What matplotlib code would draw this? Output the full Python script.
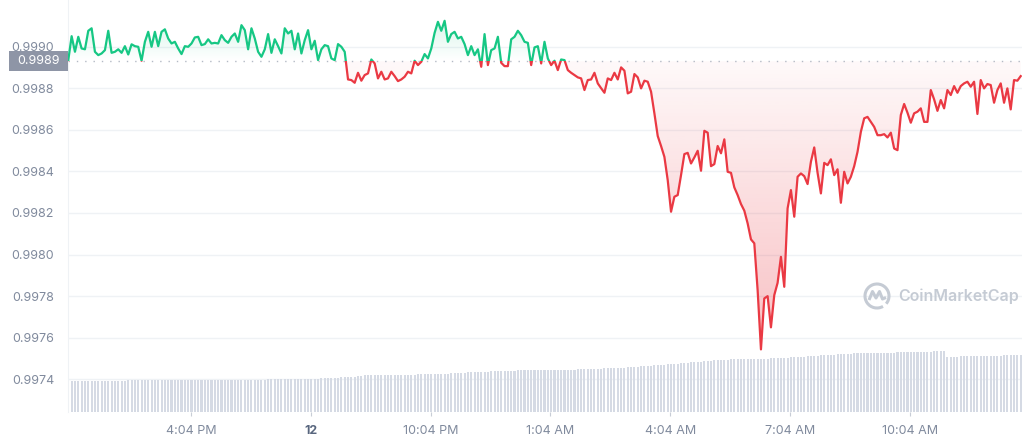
import numpy as np
import matplotlib.pyplot as plt
import matplotlib.transforms as mtransforms
from matplotlib.path import Path
from matplotlib.patches import Rectangle, Arc, PathPatch
from matplotlib.colors import to_rgb

plt.rcParams['font.family'] = ['Inter', 'DejaVu Sans']

# 5 minute prices starting 1:00 PM
price = [
	0.998935, 0.999050, 0.998975, 0.999047, 0.998991, 0.998987, 0.999076, 0.999088, 0.998975, 0.998959,
	0.998967, 0.998983, 0.999076, 0.998970, 0.998975, 0.998987, 0.998970, 0.999002, 0.998962, 0.999011,
	0.999002, 0.998999, 0.998932, 0.999023, 0.999071, 0.998999, 0.999071, 0.999002, 0.999071, 0.999083,
	0.999039, 0.999015, 0.999023, 0.998991, 0.998964, 0.999002, 0.998999, 0.999015, 0.999044, 0.999047,
	0.999007, 0.999012, 0.999035, 0.999015, 0.999018, 0.999015, 0.999055, 0.999031, 0.999018, 0.999047,
	0.999063, 0.999023, 0.999103, 0.999079, 0.998987, 0.999088, 0.999039, 0.998975, 0.998951, 0.998987,
	0.999060, 0.998970, 0.999035, 0.999002, 0.998967, 0.999088, 0.999063, 0.999076, 0.998987, 0.999063,
	0.998967, 0.999031, 0.999079, 0.998987, 0.999028, 0.998935, 0.998987, 0.999007,
	0.999002, 0.998943, 0.998935, 0.999012, 0.998999, 0.998975, 0.998842, 0.998839, 0.998826, 0.998874,
	0.998836, 0.998863, 0.998871, 0.998938, 0.998919, 0.998847, 0.998879, 0.998842, 0.998847, 0.998879,
	0.998858, 0.998834, 0.998842, 0.998855, 0.998879, 0.998871, 0.998932, 0.998911, 0.998927, 0.998964,
	0.998943, 0.998991, 0.999066, 0.999119, 0.999076, 0.999124, 0.999023, 0.999060, 0.999071, 0.999039,
	0.999047, 0.999012, 0.998959, 0.999002, 0.998959, 0.998987, 0.998903, 0.999060, 0.998911, 0.998983,
	0.998991, 0.999047, 0.998922, 0.998906, 0.998906, 0.999035, 0.999047, 0.999076, 0.999055, 0.999023,
	0.999018, 0.998911, 0.998996, 0.999002, 0.998919, 0.999023, 0.998943, 0.998911, 0.998932, 0.998887,
	0.998938, 0.998935, 0.998887, 0.998874, 0.998863, 0.998852, 0.998847, 0.998791, 0.998839, 0.998842,
	0.998874,
	0.998823, 0.998800, 0.998778, 0.998847, 0.998839, 0.998874, 0.998842, 0.998900, 0.998884, 0.998775,
	0.998783, 0.998868, 0.998852, 0.998799, 0.998836, 0.998831, 0.998783, 0.998679, 0.998570, 0.998522,
	0.998470, 0.998358, 0.998206, 0.998278, 0.998286, 0.998382, 0.998483, 0.998489, 0.998438, 0.998467,
	0.998499, 0.998403, 0.998595, 0.998586, 0.998425, 0.998435, 0.998522, 0.998487, 0.998554, 0.998398,
	0.998393, 0.998323, 0.998286, 0.998243, 0.998211, 0.998150, 0.998073, 0.998054, 0.997829, 0.997544,
	0.997789, 0.997800, 0.997650, 0.997805, 0.997864, 0.997989, 0.997845, 0.998222, 0.998310, 0.998182,
	0.998374,
	0.998390, 0.998377, 0.998339, 0.998446, 0.998515, 0.998393, 0.998294, 0.998441, 0.998430, 0.998458,
	0.998382, 0.998410, 0.998249, 0.998398, 0.998342, 0.998374, 0.998425, 0.998494, 0.998590, 0.998655,
	0.998662, 0.998638, 0.998614, 0.998574, 0.998574, 0.998579, 0.998563, 0.998586, 0.998510, 0.998502,
	0.998671, 0.998724, 0.998682, 0.998634, 0.998679, 0.998687, 0.998703, 0.998638, 0.998638, 0.998791,
	0.998746, 0.998691, 0.998743, 0.998703, 0.998791, 0.998767, 0.998810, 0.998778, 0.998810, 0.998823,
	0.998831, 0.998807, 0.998831, 0.998676, 0.998839, 0.998799, 0.998820, 0.998815, 0.998730, 0.998791,
	0.998823, 0.998730, 0.998799, 0.998698, 0.998839, 0.998836, 0.998858,
]

# 24h volume (B USD) for each 5 minute step
volume = [
	3.13, 3.13, 3.13, 3.13, 3.13, 3.14, 3.14, 3.14, 3.14, 3.14, 3.14, 3.15, 3.15, 3.15, 3.15, 3.15, 3.15, 3.15, 3.16, 3.16,
	3.16, 3.16, 3.16, 3.16, 3.16, 3.17, 3.17, 3.17, 3.17, 3.17, 3.17, 3.17, 3.18, 3.18, 3.18, 3.18, 3.18, 3.18, 3.18, 3.18,
	3.18, 3.19, 3.19, 3.19, 3.20, 3.20, 3.20, 3.21, 3.21, 3.21, 3.22, 3.22, 3.22, 3.23, 3.23, 3.23, 3.24, 3.24, 3.25, 3.25,
	3.26, 3.26, 3.27, 3.27, 3.28, 3.28, 3.29, 3.29, 3.30, 3.30, 3.30, 3.31, 3.32, 3.33, 3.34, 3.35, 3.36, 3.37, 3.38, 3.40,
	3.42, 3.44, 3.46, 3.48, 3.50, 3.52, 3.55, 3.58, 3.62, 3.66, 3.70, 3.71, 3.71, 3.72, 3.72, 3.72, 3.73, 3.73, 3.73, 3.74,
	3.74, 3.74, 3.75, 3.75, 3.75, 3.76, 3.76, 3.76, 3.77, 3.77, 3.78, 3.80, 3.81, 3.83, 3.85, 3.86, 3.88, 3.90, 3.92, 3.94,
	3.96, 3.97, 3.99, 4.00, 4.01, 4.03, 4.04, 4.06, 4.07, 4.09, 4.10, 4.11, 4.13, 4.14, 4.15, 4.16, 4.17, 4.17, 4.18, 4.18,
	4.18, 4.18, 4.19, 4.19, 4.19, 4.19, 4.20, 4.20, 4.20, 4.21, 4.22, 4.23, 4.25, 4.26, 4.27, 4.28, 4.30, 4.31, 4.32, 4.34,
	4.35, 4.36, 4.37, 4.39, 4.40, 4.41, 4.43, 4.45, 4.48, 4.50, 4.52, 4.55, 4.57, 4.59, 4.62, 4.64, 4.66, 4.69, 4.71, 4.74,
	4.76, 4.79, 4.82, 4.85, 4.88, 4.91, 4.94, 4.97, 5.00, 5.03, 5.05, 5.08, 5.11, 5.13, 5.16, 5.18, 5.21, 5.23, 5.25, 5.27,
	5.27, 5.28, 5.28, 5.29, 5.30, 5.30, 5.31, 5.31, 5.32, 5.34, 5.35, 5.37, 5.38, 5.40, 5.41, 5.43, 5.44, 5.46, 5.48, 5.51,
	5.53, 5.55, 5.57, 5.60, 5.62, 5.64, 5.66, 5.68, 5.70, 5.73, 5.75, 5.77, 5.79, 5.81, 5.83, 5.85, 5.87, 5.88, 5.89, 5.90,
	5.90, 5.91, 5.91, 5.92, 5.93, 5.93, 5.94, 5.95, 5.95, 5.96, 5.97, 5.98, 5.98, 5.99, 6.00, 6.01, 6.02, 6.03, 6.04, 6.05,
	6.06, 6.07, 6.08, 6.10, 5.53, 5.54, 5.55, 5.55, 5.56, 5.57, 5.57, 5.58, 5.59, 5.59, 5.60, 5.61, 5.62, 5.62, 5.63, 5.64,
	5.65, 5.66, 5.67, 5.68, 5.68, 5.69, 5.70,
]

open_price = 0.998930
open_label = '0.9989'
start_hour = 13.0
step_hour = 5 / 60

price_ticks = [0.9974, 0.9976, 0.9978, 0.9980, 0.9982, 0.9984, 0.9986, 0.9988, 0.9990]
time_ticks = [16 + 4/60, 19 + 4/60, 22 + 4/60, 25 + 4/60, 28 + 4/60, 31 + 4/60, 34 + 4/60]
time_labels = ['4:04 PM', '12', '10:04 PM', '1:04 AM', '4:04 AM', '7:04 AM', '10:04 AM']

GREEN = '#16c784'
RED = '#ea3943'
GREY_TXT = '#808a9d'


def gradient_fill(ax, x, y, base, color, above, lo, hi, a_lo, a_hi):
	where = y >= base if above else y <= base
	poly = ax.fill_between(x, y, base, where=where, interpolate=True,
						   facecolor='none', edgecolor='none')
	path = Path.make_compound_path(*poly.get_paths())
	grad = np.zeros((256, 1, 4))
	grad[:, 0, :3] = to_rgb(color)
	grad[:, 0, 3] = np.linspace(a_lo, a_hi, 256)
	im = ax.imshow(grad, extent=[x[0], x[-1], lo, hi], origin='lower',
				   aspect='auto', interpolation='bilinear', zorder=1)
	im.set_clip_path(path, transform=ax.transData)


price = np.array(price)
t = start_hour + np.arange(len(price)) * step_hour

fig = plt.figure(figsize=(10.24, 4.41), dpi=100)
ax = fig.add_axes([68/1024, 29/441, 954/1024, 412/441])

xlim = (t[0] - 0.0075, t[-1] + 0.0325)
ylim = (0.997243, 0.999224)

# grid
for p in price_ticks:
	ax.axhline(p, color='#eff2f5', lw=1, zorder=0)

# volume bars in the lower part, own vertical scale
vol_top = 41.2
vol_tf = mtransforms.blended_transform_factory(
	ax.transData, mtransforms.Affine2D().scale(1, 1 / vol_top) + ax.transAxes)
ax.bar(t, volume, width=step_hour * 0.62, color='#d5dae4', linewidth=0,
	   transform=vol_tf, zorder=0.5)

# gradient areas
gradient_fill(ax, t, price, open_price, GREEN, True, open_price, price.max(), 0.0, 0.16)
gradient_fill(ax, t, price, open_price, RED, False, price.min(), open_price, 0.32, 0.03)

# price line, green above the open, red below
for color, lo, hi in [(GREEN, open_price, ylim[1]), (RED, ylim[0], open_price)]:
	ln, = ax.plot(t, price, color=color, lw=1.6, solid_joinstyle='round', zorder=3)
	ln.set_clip_path(Rectangle((xlim[0], lo), xlim[1] - xlim[0], hi - lo,
							   transform=ax.transData))

ax.axhline(open_price, color='#b4bac5', lw=1, ls=(0, (1, 5)), zorder=2)

ax.set_xlim(xlim)
ax.set_ylim(ylim)

ax.set_yticks(price_ticks, ['%.4f' % p for p in price_ticks])
ax.set_xticks(time_ticks, time_labels)
ax.tick_params(axis='y', length=0, pad=10, labelsize=9, labelcolor=GREY_TXT)
ax.tick_params(axis='x', length=3, width=0.8, color='#c8cdd6', pad=6,
			   labelsize=9, labelcolor=GREY_TXT)
lbl = ax.get_xticklabels()[1]
lbl.set_fontweight('bold')
lbl.set_color('#58667e')

for s in ['top', 'right', 'bottom']:
	ax.spines[s].set_visible(False)
ax.spines['left'].set_color('#eff2f5')

# open price tag on the y axis
tag_tf = mtransforms.blended_transform_factory(ax.transAxes, ax.transData)
ax.add_patch(Rectangle((-59/954, open_price - 4.8e-5), 59/954, 9.6e-5,
					   transform=tag_tf, facecolor='#8e95a6', edgecolor='none',
					   clip_on=False, zorder=10))
ax.text(-29.5/954, open_price, open_label, transform=tag_tf, ha='center', va='center',
		fontsize=9, color='white', zorder=11, clip_on=False)

# watermark
wm = '#c5cbd4'
cx, cy = 8.77, 1.45
fig.add_artist(Arc((cx, cy), 0.24, 0.24, theta1=-40, theta2=300,
				   transform=fig.dpi_scale_trans, color=wm, lw=2.2))
wave = Path([(cx - 0.08, cy - 0.04), (cx - 0.045, cy + 0.045), (cx - 0.01, cy - 0.02),
			 (cx + 0.025, cy + 0.045), (cx + 0.055, cy - 0.03), (cx + 0.09, cy - 0.015)])
fig.add_artist(PathPatch(wave, transform=fig.dpi_scale_trans, facecolor='none',
						 edgecolor=wm, lw=2.2, joinstyle='round'))
fig.text(898/1024, (441 - 296)/441, 'CoinMarketCap', ha='left', va='center',
		 fontsize=11.5, fontweight='semibold', color=wm)

fig.savefig('out.png', dpi=100)
